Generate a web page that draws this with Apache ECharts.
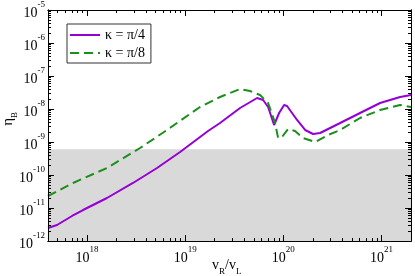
<!DOCTYPE html>
<html><head><meta charset="utf-8">
<script src="https://cdn.jsdelivr.net/npm/echarts@6/dist/echarts.min.js"></script>
<style>html,body{margin:0;padding:0;background:#fff}#c{width:415px;height:276px}</style>
</head><body><div id="c"></div>
<script>
// x values: log10(v_R/v_L); y values: log10(eta_B)
const purpleX = [17.602,17.694,17.847,17.959,18.203,18.468,18.713,18.948,19.233,19.355,19.559,19.733,19.794,19.845,19.906,19.957,20.008,20.038,20.140,20.222,20.303,20.375,20.579,20.782,20.986,21.190,21.302];
const purpleY = [-11.606,-11.515,-11.242,-11.061,-10.697,-10.242,-9.788,-9.303,-8.667,-8.424,-7.970,-7.667,-7.727,-7.939,-8.485,-8.121,-7.879,-7.909,-8.333,-8.636,-8.758,-8.727,-8.424,-8.121,-7.818,-7.636,-7.576];
const greenX = [17.602,17.857,18.203,18.540,18.815,19.151,19.355,19.559,19.661,19.763,19.845,19.916,19.947,19.987,20.048,20.120,20.201,20.324,20.456,20.579,20.782,20.986,21.190,21.302];
const greenY = [-10.636,-10.242,-9.788,-9.182,-8.636,-7.939,-7.636,-7.394,-7.455,-7.576,-7.818,-8.424,-8.879,-8.848,-8.606,-8.667,-8.879,-9.000,-8.788,-8.636,-8.273,-8.030,-7.879,-7.939];
const seriesNames = ['κ = π/4', 'κ = π/8'];
const xMajor = [18, 19, 20, 21];
const yMajor = [-12, -11, -10, -9, -8, -7, -6, -5];
const bandTop = 6e-10;
const X_MIN = Math.log10(4e17), X_MAX = Math.log10(2e21);
const Y_MIN = -12, Y_MAX = -5;

function minors(lo, hi) {
  const out = [];
  for (let n = Math.floor(lo) - 1; n <= Math.ceil(hi); n++) {
    for (let k = 2; k <= 9; k++) {
      const v = n + Math.log10(k);
      if (v > lo + 1e-6 && v < hi - 1e-6) out.push(v);
    }
  }
  return out;
}
const xMinor = minors(X_MIN, X_MAX);
const yMinor = minors(Y_MIN, Y_MAX);

const serif = 'Liberation Serif, Times New Roman, serif';
const richLab = {
  b: {fontSize: 14, fontFamily: serif, color: '#000', verticalAlign: 'bottom', lineHeight: 20},
  s: {fontSize: 9, fontFamily: serif, color: '#000', verticalAlign: 'top', lineHeight: 20}
};
const fmt = v => '{b|10}{s|' + Math.round(v) + '}';

function xAx(pos, vals, len, labels) {
  return {
    type: 'value', position: pos, min: X_MIN, max: X_MAX, z: 10,
    axisLine: {show: true, onZero: false, lineStyle: {color: '#000', width: 1}},
    axisTick: {show: true, inside: true, length: len, customValues: vals, lineStyle: {color: '#000'}},
    axisLabel: labels ? {show: true, customValues: vals, formatter: fmt, rich: richLab, margin: 4} : {show: false},
    splitLine: {show: false}
  };
}
function yAx(pos, vals, len, labels) {
  return {
    type: 'value', position: pos, min: Y_MIN, max: Y_MAX, z: 10,
    axisLine: {show: true, onZero: false, lineStyle: {color: '#000', width: 1}},
    axisTick: {show: true, inside: true, length: len, customValues: vals, lineStyle: {color: '#000'}},
    axisLabel: labels ? {show: true, customValues: vals, formatter: fmt, rich: richLab, margin: 3} : {show: false},
    splitLine: {show: false}
  };
}

const chart = echarts.init(document.getElementById('c'), null, {renderer: 'canvas'});
chart.setOption({
  animation: false,
  backgroundColor: '#fff',
  grid: {left: 48, top: 10, right: 4, bottom: 35, containLabel: false},
  xAxis: [xAx('bottom', xMajor, 6, true), xAx('bottom', xMinor, 3, false), xAx('top', xMajor, 6, false), xAx('top', xMinor, 3, false)],
  yAxis: [yAx('left', yMajor, 6, true), yAx('left', yMinor, 3, false), yAx('right', yMajor, 6, false), yAx('right', yMinor, 3, false)],
  legend: {
    orient: 'vertical', left: 67, top: 24, itemWidth: 30, itemHeight: 10, itemGap: 4,
    padding: [4, 6, 3, 2], borderColor: '#333', borderWidth: 1, backgroundColor: '#fff',
    itemStyle: {opacity: 0},
    textStyle: {fontFamily: serif, fontSize: 14, color: '#000'},
    data: seriesNames
  },
  series: [
    {
      name: seriesNames[0], type: 'line', symbol: 'none', z: 3,
      data: purpleX.map((x, i) => [x, purpleY[i]]),
      lineStyle: {color: '#9400d3', width: 2}, itemStyle: {color: '#9400d3'},
      markArea: {silent: true, itemStyle: {color: '#d9d9d9'},
        data: [[{yAxis: Y_MIN}, {yAxis: Math.log10(bandTop)}]]}
    },
    {
      name: seriesNames[1], type: 'line', symbol: 'none', z: 4,
      data: greenX.map((x, i) => [x, greenY[i]]),
      lineStyle: {color: '#1a8f1a', width: 2, type: [9, 5]}, itemStyle: {color: '#1a8f1a'}
    }
  ],
  graphic: [
    {type: 'text', left: 1, top: 112, rotation: Math.PI / 2,
      style: {text: '{b|η}{s|B}', rich: {
        b: {fontSize: 15, fontFamily: serif, fill: '#000', verticalAlign: 'top', lineHeight: 18},
        s: {fontSize: 9, fontFamily: serif, fill: '#000', verticalAlign: 'bottom', lineHeight: 18}}}},
    {type: 'text', left: 212, top: 258,
      style: {text: '{b|v}{s|R}{b|/v}{s|L}', rich: {
        b: {fontSize: 14, fontFamily: serif, fill: '#000', verticalAlign: 'top', lineHeight: 18},
        s: {fontSize: 9, fontFamily: serif, fill: '#000', verticalAlign: 'bottom', lineHeight: 18}}}}
  ]
});
</script></body></html>
